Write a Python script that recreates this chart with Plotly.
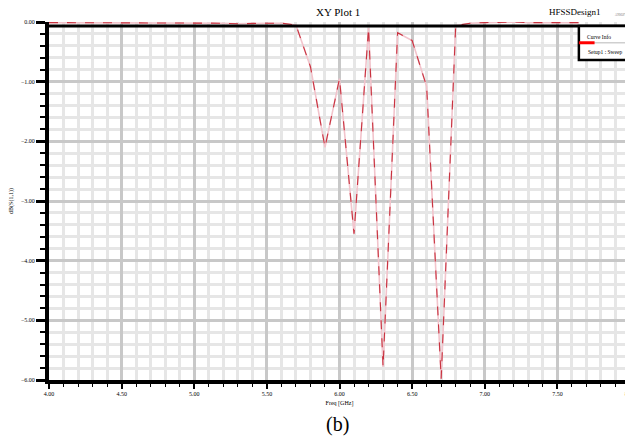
import plotly.graph_objects as go

# Data (S11 sweep)
freq_ghz = [4.0, 4.1, 4.2, 4.3, 4.4, 4.5, 4.6, 4.7, 4.8, 4.9,
            5.0, 5.1, 5.2, 5.3, 5.4, 5.5, 5.6, 5.7, 5.8, 5.9,
            6.0, 6.1, 6.2, 6.3, 6.4, 6.5, 6.6, 6.7, 6.8, 6.9,
            7.0, 7.1, 7.2, 7.3, 7.4, 7.5, 7.6, 7.65]
s11_db = [-0.01, -0.01, -0.01, -0.01, -0.01, -0.01, -0.01, -0.01, -0.01, -0.01,
          -0.01, -0.02, -0.02, -0.03, -0.02, -0.02, -0.02, -0.05, -0.75, -2.10,
          -0.95, -3.55, -0.10, -5.78, -0.18, -0.31, -1.08, -5.98, -0.06, -0.02,
          -0.01, 0.0, 0.0, -0.01, -0.01, -0.02, -0.01, -0.01]

x_tick_vals = [4.0, 4.5, 5.0, 5.5, 6.0, 6.5, 7.0, 7.5, 8.0]
y_tick_vals = [0, -1, -2, -3, -4, -5, -6]

title_text = "XY Plot 1"
design_text = "HFSSDesign1"
legend_title = "Curve Info"
series_name = "Setup1 : Sweep"
x_title = "Freq [GHz]"
y_title = "dB(S(1,1))"
caption = "(b)"

SERIF = "Liberation Serif, Times New Roman, serif"

fig = go.Figure()
fig.add_trace(go.Scatter(x=freq_ghz, y=s11_db, mode="lines",
                         line=dict(color="#f2c4cc", width=1.6),
                         hoverinfo="skip", showlegend=False, cliponaxis=False))
fig.add_trace(go.Scatter(x=freq_ghz, y=s11_db, mode="lines", name=series_name,
                         line=dict(color="#c8323f", width=1.1, dash="dash"),
                         showlegend=False, cliponaxis=False))

# the page body adds an 8px offset, so margins compensate for it
fig.update_layout(
    width=633, height=439,
    margin=dict(l=41, r=11, t=14, b=67),
    paper_bgcolor="white", plot_bgcolor="white",
    font=dict(family=SERIF, color="black"),
    showlegend=False,
)

fig.update_xaxes(
    range=[4, 8], tickvals=x_tick_vals, tickformat=".2f", automargin=False,
    ticks="outside", ticklen=5, tickwidth=1.5, tickcolor="black",
    tickfont=dict(size=6, family=SERIF),
    showline=True, linewidth=4, linecolor="black", mirror=False,
    showgrid=True, gridcolor="#c8c8c8", gridwidth=3, zeroline=False,
    minor=dict(dtick=0.1, showgrid=True, gridcolor="#e6e6e6", gridwidth=3,
               ticks="outside", ticklen=3, tickwidth=1, tickcolor="black"),
    title=dict(text=x_title, font=dict(size=6, family=SERIF), standoff=6),
)
fig.update_yaxes(
    range=[-6, 0], tickvals=y_tick_vals, tickformat=".2f", automargin=False,
    ticks="outside", ticklen=9, tickwidth=3, tickcolor="black",
    tickfont=dict(size=6, family=SERIF),
    showline=True, linewidth=4, linecolor="black", mirror=False,
    showgrid=True, gridcolor="#c8c8c8", gridwidth=3, zeroline=False,
    minor=dict(dtick=0.2, showgrid=True, gridcolor="#e6e6e6", gridwidth=3,
               ticks="outside", ticklen=5, tickwidth=1.5, tickcolor="black"),
    title=dict(text=y_title, font=dict(size=6, family=SERIF), standoff=8),
)

# top frame line (drawn slightly below the 0 level as in the reference)
fig.add_shape(type="line", xref="paper", yref="paper", x0=-0.003, x1=1.0,
              y0=0.989, y1=0.989, line=dict(color="black", width=3), layer="above")

# legend box (Curve Info)
fig.add_shape(type="rect", xref="paper", yref="paper", x0=0.912, x1=1.006,
              y0=0.894, y1=0.989, fillcolor="white",
              line=dict(color="black", width=2.5), layer="above")
fig.add_shape(type="line", xref="paper", yref="paper", x0=0.935, x1=1.006,
              y0=0.942, y1=0.942, line=dict(color="#cfcfcf", width=1.5), layer="above")
fig.add_shape(type="line", xref="paper", yref="paper", x0=0.912, x1=0.939,
              y0=0.942, y1=0.942, line=dict(color="#ff0000", width=3), layer="above")
fig.add_annotation(xref="paper", yref="paper", x=0.946, y=0.957, text=legend_title,
                   showarrow=False, xanchor="center", yanchor="middle",
                   font=dict(size=5.5, family=SERIF))
fig.add_annotation(xref="paper", yref="paper", x=0.957, y=0.916, text=series_name,
                   showarrow=False, xanchor="center", yanchor="middle",
                   font=dict(size=5.5, family=SERIF))

# titles
fig.add_annotation(xref="paper", yref="paper", x=0.497, y=1.028, text=title_text,
                   showarrow=False, xanchor="center", yanchor="middle",
                   font=dict(size=11, family=SERIF))
fig.add_annotation(xref="paper", yref="paper", x=0.905, y=1.028, text=design_text,
                   showarrow=False, xanchor="center", yanchor="middle",
                   font=dict(size=9, family=SERIF))
fig.add_annotation(xref="paper", yref="paper", x=0.998, y=1.02, text="ANSOFT",
                   showarrow=False, xanchor="right", yanchor="middle",
                   font=dict(size=3, family=SERIF, color="#777777"))
fig.add_annotation(xref="paper", yref="paper", x=0.497, y=-0.123, text=caption,
                   showarrow=False, xanchor="center", yanchor="middle",
                   font=dict(size=20, family=SERIF))

fig.write_html("out.html")
